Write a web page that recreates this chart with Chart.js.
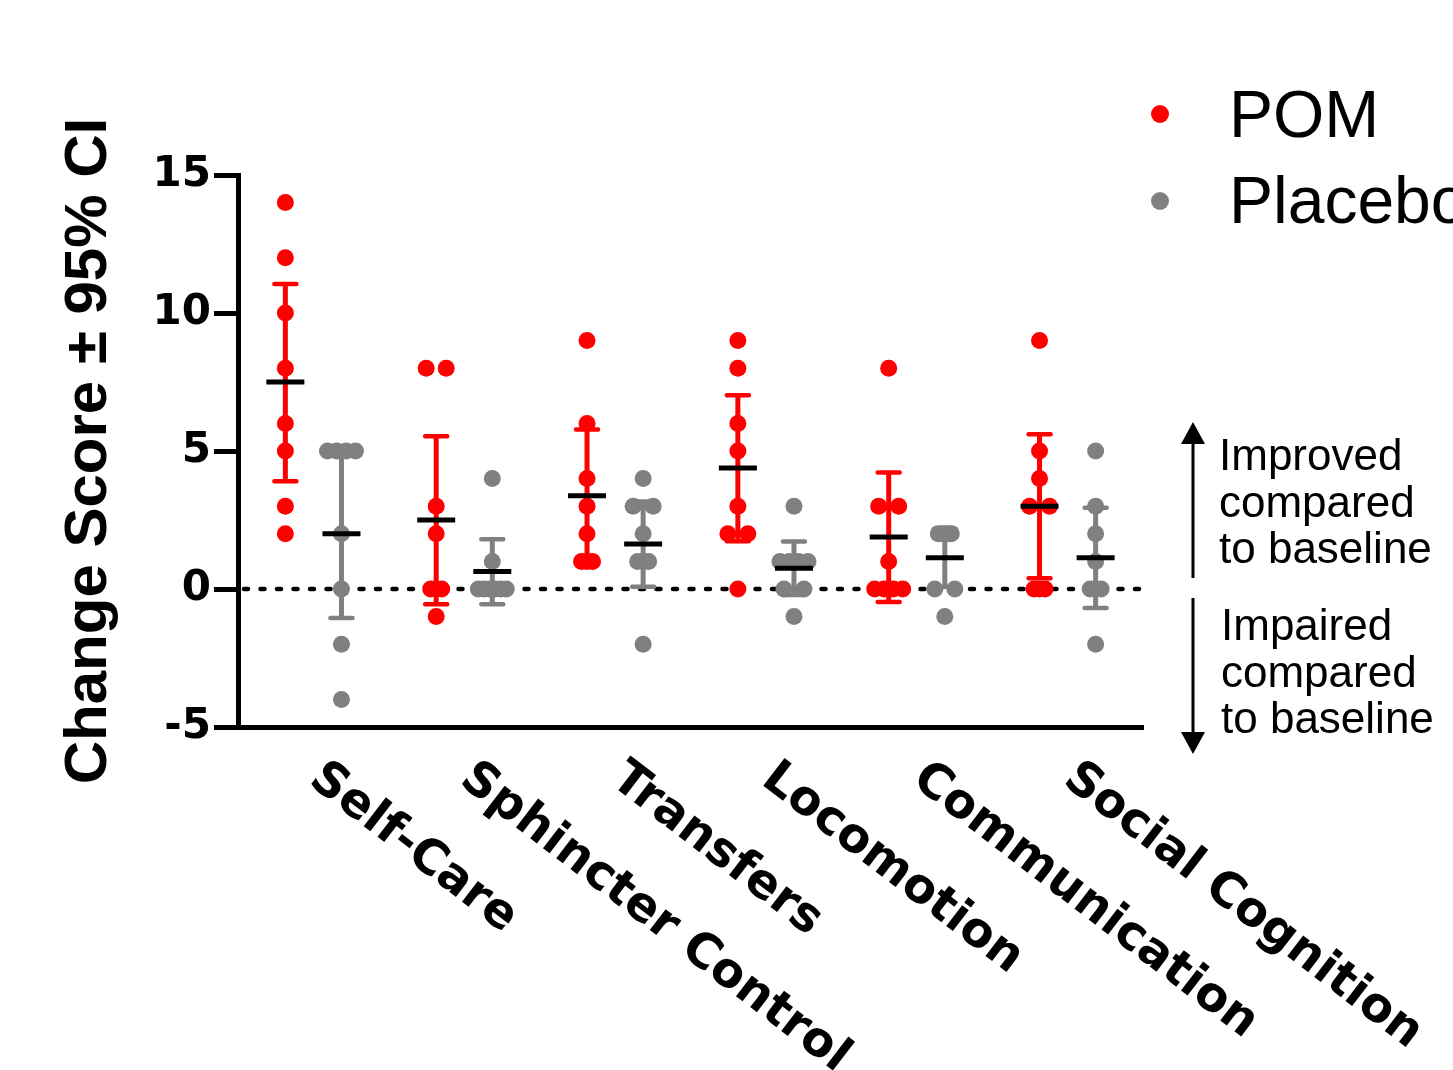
<!DOCTYPE html>
<html>
<head>
<meta charset="utf-8">
<script src="https://cdn.jsdelivr.net/npm/chart.js@4.4.0/dist/chart.umd.min.js"></script>
<style>
  html, body { margin: 0; padding: 0; background: #fff; }
</style>
</head>
<body>
<canvas id="chart" width="1453" height="1070"></canvas>
<script>
// Categories and individual change scores
const categories = ["Self-Care", "Sphincter Control", "Transfers", "Locomotion", "Communication", "Social Cognition"];

const pomScores = [
    [14, 12, 10, 8, 6, 5, 3, 2],
    [8, 8, 3, 2, 0, 0, 0, -1],
    [9, 6, 4, 3, 2, 1, 1, 1],
    [9, 8, 6, 5, 3, 2, 2, 0],
    [8, 3, 3, 1, 0, 0, 0, 0],
    [9, 5, 4, 3, 3, 0, 0, 0]
];
const placeboScores = [
    [5, 5, 5, 5, 2, 0, -2, -4],
    [4, 1, 0, 0, 0, 0, 0, 0],
    [4, 3, 3, 2, 1, 1, 1, -2],
    [3, 1, 1, 1, 1, 0, 0, -1],
    [2, 2, 2, 2, 2, 0, 0, -1],
    [5, 3, 2, 1, 0, 0, 0, -2]
];

// Means and 95% CI bounds
const pomMean = [7.5, 2.5, 3.38, 4.38, 1.88, 3.0];
const pomLow = [3.9, -0.55, 0.97, 1.73, -0.47, 0.39];
const pomHigh = [11.05, 5.53, 5.78, 7.02, 4.22, 5.61];
const placeboMean = [2.0, 0.63, 1.63, 0.75, 1.13, 1.13];
const placeboLow = [-1.05, -0.55, 0.08, -0.22, 0.08, -0.69];
const placeboHigh = [5.03, 1.8, 3.17, 1.72, 2.17, 2.94];

const yTicks = [-5, 0, 5, 10, 15];

const red = "#FF0000";
const gray = "#808080";
const fontFamily = "'Liberation Sans', Arial, sans-serif";
const wideBold = "'DejaVu Sans', 'Liberation Sans', sans-serif";

const pomOffset = 0.314;
const placeboOffset = 0.686;
const unitPx = 150.8;
const spreadPx = {1: 0, 2: 20, 3: 11, 4: 28, 5: 13, 6: 28};

// side-by-side placement of tied values
function spreadPoints(groups, offset) {
    const pts = [];
    groups.forEach((values, i) => {
        const counts = {};
        values.forEach(v => counts[v] = (counts[v] || 0) + 1);
        const seen = {};
        values.forEach(v => {
            const k = counts[v];
            const j = seen[v] || 0;
            seen[v] = j + 1;
            const w = spreadPx[k] !== undefined ? spreadPx[k] : 28;
            const off = k > 1 ? (j / (k - 1) - 0.5) * w : 0;
            pts.push({x: i + offset + off / unitPx, y: v});
        });
    });
    return pts;
}

const overlay = {
    id: "overlay",
    beforeDatasetsDraw(chart) {
        const {ctx, chartArea, scales: {x, y}} = chart;
        // dotted zero line
        ctx.save();
        ctx.strokeStyle = "#000";
        ctx.lineWidth = 4.5;
        ctx.lineCap = "round";
        ctx.setLineDash([4, 12.5]);
        ctx.beginPath();
        ctx.moveTo(chartArea.left + 6, y.getPixelForValue(0));
        ctx.lineTo(chartArea.right, y.getPixelForValue(0));
        ctx.stroke();
        ctx.restore();

        // CI bars
        function ciBar(xv, lo, hi, color) {
            const px = x.getPixelForValue(xv);
            const yl = y.getPixelForValue(lo);
            const yh = y.getPixelForValue(hi);
            ctx.save();
            ctx.strokeStyle = color;
            ctx.lineWidth = 5;
            ctx.beginPath();
            ctx.moveTo(px, yl);
            ctx.lineTo(px, yh);
            ctx.stroke();
            ctx.lineWidth = 4.5;
            ctx.lineCap = "round";
            ctx.beginPath();
            ctx.moveTo(px - 11, yl); ctx.lineTo(px + 11, yl);
            ctx.moveTo(px - 11, yh); ctx.lineTo(px + 11, yh);
            ctx.stroke();
            ctx.restore();
        }
        categories.forEach((c, i) => {
            ciBar(i + pomOffset, pomLow[i], pomHigh[i], red);
            ciBar(i + placeboOffset, placeboLow[i], placeboHigh[i], gray);
        });
    },
    afterDatasetsDraw(chart) {
        const {ctx, scales: {x, y}} = chart;
        ctx.save();
        ctx.strokeStyle = "#000";
        ctx.lineWidth = 5;
        ctx.beginPath();
        categories.forEach((c, i) => {
            const a = x.getPixelForValue(i + pomOffset);
            const ya = y.getPixelForValue(pomMean[i]);
            ctx.moveTo(a - 19, ya); ctx.lineTo(a + 19, ya);
            const b = x.getPixelForValue(i + placeboOffset);
            const yb = y.getPixelForValue(placeboMean[i]);
            ctx.moveTo(b - 19, yb); ctx.lineTo(b + 19, yb);
        });
        ctx.stroke();
        ctx.restore();
    },
    afterDraw(chart) {
        const {ctx, chartArea, scales: {x}} = chart;

        // rotated category labels
        ctx.save();
        ctx.fillStyle = "#000";
        ctx.font = "bold 48px " + wideBold;
        ctx.textAlign = "left";
        ctx.textBaseline = "top";
        categories.forEach((c, i) => {
            ctx.save();
            ctx.translate(x.getPixelForValue(i + 0.5) + 16, chartArea.bottom + 27);
            ctx.rotate(37.5 * Math.PI / 180);
            ctx.fillText(c, 0, 0);
            ctx.restore();
        });
        ctx.restore();

        // legend
        ctx.save();
        ctx.font = "66px " + fontFamily;
        ctx.textBaseline = "alphabetic";
        ctx.fillStyle = red;
        ctx.beginPath(); ctx.arc(1160, 114, 9, 0, Math.PI * 2); ctx.fill();
        ctx.fillStyle = gray;
        ctx.beginPath(); ctx.arc(1160, 201, 9, 0, Math.PI * 2); ctx.fill();
        ctx.fillStyle = "#000";
        ctx.fillText("POM", 1229, 137);
        ctx.fillText("Placebo", 1229, 223);
        ctx.restore();

        // direction arrows and notes
        ctx.save();
        ctx.strokeStyle = "#000";
        ctx.fillStyle = "#000";
        ctx.lineWidth = 3;
        ctx.beginPath();
        ctx.moveTo(1193, 440); ctx.lineTo(1193, 578);
        ctx.moveTo(1193, 598); ctx.lineTo(1193, 736);
        ctx.stroke();
        ctx.beginPath();
        ctx.moveTo(1193, 422); ctx.lineTo(1181, 444); ctx.lineTo(1205, 444); ctx.closePath();
        ctx.fill();
        ctx.beginPath();
        ctx.moveTo(1193, 754); ctx.lineTo(1181, 732); ctx.lineTo(1205, 732); ctx.closePath();
        ctx.fill();
        ctx.font = "44px " + fontFamily;
        ctx.textBaseline = "alphabetic";
        ["Improved", "compared", "to baseline"].forEach((t, k) => ctx.fillText(t, 1219, 470 + k * 46.5));
        ["Impaired", "compared", "to baseline"].forEach((t, k) => ctx.fillText(t, 1221, 640 + k * 46.5));
        ctx.restore();
    }
};

new Chart(document.getElementById("chart").getContext("2d"), {
    type: "scatter",
    data: {
        datasets: [
            {
                label: "POM",
                data: spreadPoints(pomScores, pomOffset),
                backgroundColor: red,
                borderColor: red,
                borderWidth: 0,
                pointRadius: 8.5,
                clip: false
            },
            {
                label: "Placebo",
                data: spreadPoints(placeboScores, placeboOffset),
                backgroundColor: gray,
                borderColor: gray,
                borderWidth: 0,
                pointRadius: 8.5,
                clip: false
            }
        ]
    },
    options: {
        responsive: false,
        animation: false,
        events: [],
        layout: { padding: { left: 45, right: 310, top: 175, bottom: 0 } },
        plugins: {
            legend: { display: false },
            tooltip: { enabled: false }
        },
        scales: {
            x: {
                type: "linear",
                min: 0,
                max: categories.length,
                ticks: { display: false },
                grid: { display: false },
                border: { display: true, color: "#000", width: 5 },
                afterFit: s => { s.height = 1070 - 727; }
            },
            y: {
                min: -5,
                max: 15,
                afterBuildTicks: s => { s.ticks = yTicks.map(v => ({value: v})); },
                ticks: {
                    color: "#000",
                    padding: 3,
                    font: { family: wideBold, size: 42, weight: "bold" }
                },
                grid: {
                    drawOnChartArea: false,
                    drawTicks: true,
                    tickLength: 24,
                    tickWidth: 5,
                    tickColor: "#000"
                },
                border: { display: true, color: "#000", width: 5 },
                title: {
                    display: true,
                    text: "Change Score ± 95% CI",
                    color: "#000",
                    padding: { top: 8, bottom: 0 },
                    font: { family: fontFamily, size: 60, weight: "bold" }
                },
                afterFit: s => { s.width = 238 - 45; }
            }
        }
    },
    plugins: [overlay]
});
</script>
</body>
</html>
